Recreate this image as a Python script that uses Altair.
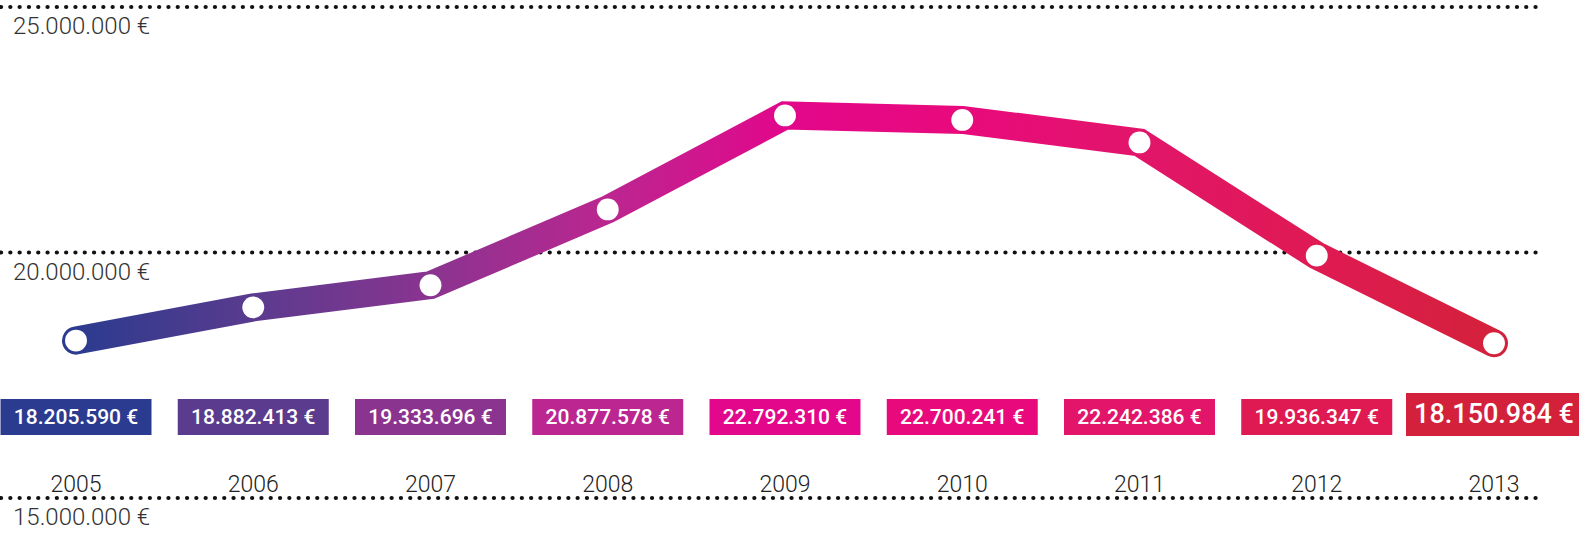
import altair as alt
import pandas as pd

years = [2005, 2006, 2007, 2008, 2009, 2010, 2011, 2012, 2013]
values = [18205590, 18882413, 19333696, 20877578, 22792310, 22700241, 22242386, 19936347, 18150984]
value_labels = ["18.205.590 €", "18.882.413 €", "19.333.696 €", "20.877.578 €", "22.792.310 €",
                "22.700.241 €", "22.242.386 €", "19.936.347 €", "18.150.984 €"]
box_colors = ["#2b3b8f", "#5a3b8e", "#8a3490", "#bb2690", "#e2078b", "#e80a7c", "#e2156a", "#df1a53", "#d4213b"]
grid_values = [15000000, 20000000, 25000000]
grid_labels = ["15.000.000 €", "20.000.000 €", "25.000.000 €"]

df = pd.DataFrame({"year": years, "value": values, "label": value_labels,
                   "last": [y == years[-1] for y in years]})
gdf = pd.DataFrame({"value": grid_values, "label": grid_labels})

xs = alt.Scale(domain=[years[0], years[-1]], range=[76, 1494], nice=False, zero=False)
ys = alt.Scale(domain=[15000000, 25000000], range=[498, 7], nice=False, zero=False)
X = alt.X("year:Q", scale=xs, axis=None)
Y = alt.Y("value:Q", scale=ys, axis=None)
box_color = alt.Color("year:O", scale=alt.Scale(domain=years, range=box_colors), legend=None)

grid = alt.Chart(gdf).mark_rule(strokeDash=[0.1, 9.2], strokeCap="round", strokeWidth=4.2, color="#111111").encode(
    y=alt.Y("value:Q", scale=ys, axis=None), x=alt.value(1), x2=alt.value(1540))
grid_text = alt.Chart(gdf).mark_text(align="left", baseline="middle", dy=20, font="Roboto", fontWeight=300,
                                     fontSize=24, color="#333333").encode(
    y=alt.Y("value:Q", scale=ys, axis=None), x=alt.value(13), text="label:N")

stops = [alt.GradientStop(offset=i / (len(box_colors) - 1), color=c) for i, c in enumerate(box_colors)]
line = alt.Chart(df).mark_line(strokeWidth=28, strokeCap="round", strokeJoin="miter",
                               stroke=alt.Gradient(gradient="linear", stops=stops, x1=0, x2=1, y1=0, y2=0)).encode(
    x=X, y=Y)
dots = alt.Chart(df).mark_circle(size=480, color="white", opacity=1).encode(x=X, y=Y)

boxes = alt.Chart(df).transform_filter("!datum.last").mark_rect(width=151).encode(
    x=X, y=alt.value(399), y2=alt.value(435), color=box_color)
box_last = alt.Chart(df).transform_filter("datum.last").mark_rect(width=176).encode(
    x=X, y=alt.value(393), y2=alt.value(436), color=box_color)
box_text = alt.Chart(df).transform_filter("!datum.last").mark_text(
    font="Roboto", fontWeight=500, fontSize=21, color="white", baseline="middle").encode(
    x=X, y=alt.value(418), text="label:N")
last_text = alt.Chart(df).transform_filter("datum.last").mark_text(
    font="Roboto", fontWeight=500, fontSize=27, color="white", baseline="middle").encode(
    x=X, y=alt.value(415), text="label:N")
year_text = alt.Chart(df).mark_text(font="Roboto", fontWeight=300, fontSize=23, color="#222222",
                                    baseline="middle").encode(
    x=X, y=alt.value(485), text="year:N")

chart = alt.layer(grid, grid_text, line, dots, boxes, box_last, box_text, last_text, year_text).properties(
    width=1579, height=538, padding=0, autosize=alt.AutoSizeParams(type="none"), background="white"
).configure_view(stroke=None)

chart.save("out.html", embed_options={"renderer": "svg", "actions": False})
